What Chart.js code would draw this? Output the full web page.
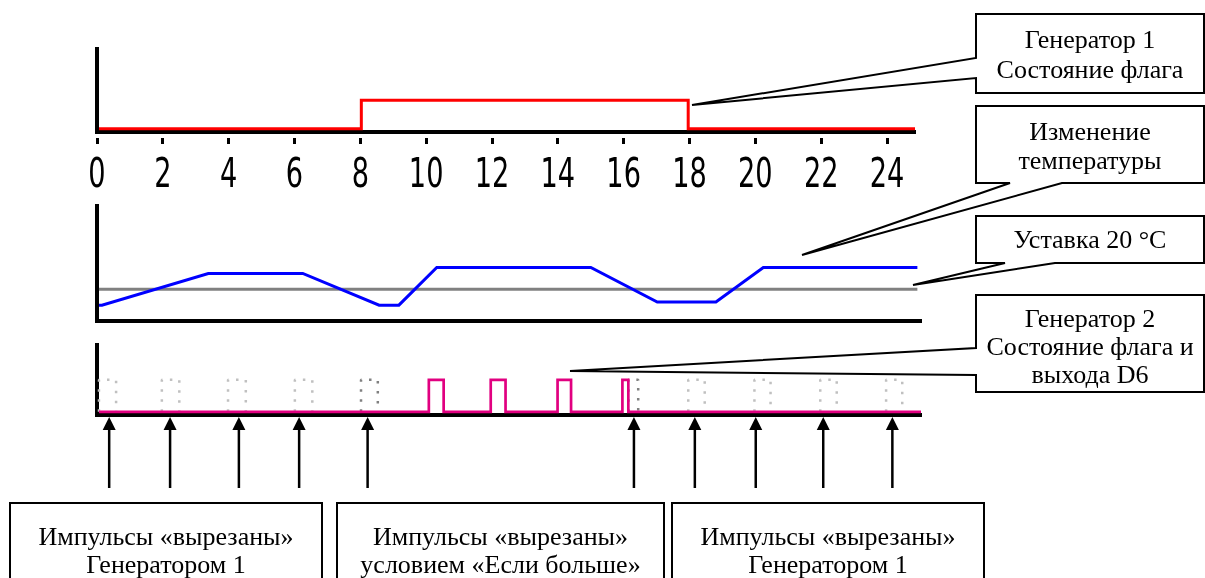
<!DOCTYPE html>
<html>
<head>
<meta charset="utf-8">
<script src="https://cdn.jsdelivr.net/npm/chart.js@4.4.1/dist/chart.umd.min.js"></script>
<style>
html, body { margin: 0; padding: 0; background: #fff; }
#wrap { position: relative; width: 1205px; height: 578px; overflow: hidden; }
canvas { position: absolute; left: 0; }
#c1 { top: 0; }
#c2 { top: 195px; }
#c3 { top: 335px; }
#notes { position: absolute; left: 0; top: 0; }
#notes text { font-family: "Liberation Serif", "Times New Roman", serif; font-size: 26px; fill: #000; }
</style>
</head>
<body>
<div id="wrap">
  <canvas id="c1" width="960" height="200"></canvas>
  <canvas id="c2" width="960" height="135"></canvas>
  <canvas id="c3" width="960" height="160"></canvas>
  <svg id="notes" width="1205" height="578"></svg>
</div>
<script>
// time axis (hours)
const tickHours = [0, 2, 4, 6, 8, 10, 12, 14, 16, 18, 20, 22, 24];

// Generator 1 flag
const flagHours = [0.06, 8.03, 17.96, 24.85];
const flagState = [0, 1, 0, 0];

// temperature and setpoint, °C
const tempHours = [0.06, 0.15, 3.38, 6.25, 8.57, 9.17, 10.32, 15.0, 17.02, 18.8, 20.24, 24.92];
const tempValues = [18.0, 18.0, 22.0, 22.0, 18.0, 18.0, 22.75, 22.75, 18.4, 18.4, 22.75, 22.75];
const setpointHours = [0.06, 24.92];
const setpointValues = [20, 20];

// Generator 2 flag / output D6
const pulseHours = [0.06, 10.08, 10.53, 11.96, 12.41, 13.99, 14.4, 15.96, 16.14, 25.03];
const pulseState = [0, 1, 0, 1, 0, 1, 0, 1, 0, 0];

// pulses that were cut out (dotted outlines)
const cutStart = [0.06, 1.97, 3.98, 6.01, 17.96, 19.97, 21.97, 23.97];
const cutEnd = [0.58, 2.5, 4.52, 6.54, 18.46, 20.46, 22.47, 24.46];
const cutDarkStart = [8.02, 16.14];
const cutDarkEnd = [8.53, 16.44];
const arrowHours = [0.37, 2.22, 4.31, 6.14, 8.22, 16.31, 18.16, 20.01, 22.06, 24.16];

function toPoints(xs, ys) {
    return xs.map((x, i) => ({ x: x, y: ys[i] }));
}

function outline(starts, ends) {
    const pts = [];
    starts.forEach((s, i) => {
        pts.push({ x: s, y: 0 }, { x: s, y: 1 }, { x: ends[i], y: 1 }, { x: ends[i], y: 0 }, { x: ends[i], y: null });
    });
    return pts;
}

function baseOptions(xMax, yMin, yMax, pad) {
    return {
        responsive: false,
        animation: false,
        devicePixelRatio: 1,
        events: [],
        layout: { padding: pad },
        plugins: { legend: { display: false }, tooltip: { enabled: false } },
        elements: {
            point: { radius: 0 },
            line: { tension: 0, borderCapStyle: 'butt', borderJoinStyle: 'miter' }
        },
        scales: {
            x: {
                type: 'linear', min: 0, max: xMax,
                grid: { display: false, drawTicks: false },
                ticks: { display: false },
                border: { display: true, color: '#000', width: 4 }
            },
            y: {
                type: 'linear', min: yMin, max: yMax,
                grid: { display: false, drawTicks: false },
                ticks: { display: false },
                border: { display: true, color: '#000', width: 4 }
            }
        }
    };
}

// tick labels drawn narrow, like the old bitmap font
const tickLabelPlugin = {
    id: 'tickLabels',
    afterDraw(chart) {
        const ctx = chart.ctx;
        const sx = chart.scales.x;
        const baseY = chart.chartArea.bottom + 55;
        ctx.save();
        ctx.fillStyle = '#000';
        ctx.font = '40px "DejaVu Sans"';
        ctx.textAlign = 'center';
        ctx.textBaseline = 'alphabetic';
        sx.ticks.forEach(t => {
            const px = sx.getPixelForValue(t.value);
            ctx.save();
            ctx.translate(px, baseY);
            ctx.scale(0.68, 1);
            ctx.fillText(String(t.value), 0, 0);
            ctx.restore();
        });
        ctx.restore();
    }
};

const arrowPlugin = {
    id: 'cutArrows',
    afterDraw(chart) {
        const ctx = chart.ctx;
        const sx = chart.scales.x;
        const tip = chart.chartArea.bottom + 2;
        ctx.save();
        ctx.fillStyle = '#000';
        ctx.strokeStyle = '#000';
        ctx.lineWidth = 2.5;
        arrowHours.forEach(h => {
            const px = sx.getPixelForValue(h);
            ctx.beginPath();
            ctx.moveTo(px, tip);
            ctx.lineTo(px - 6.5, tip + 13);
            ctx.lineTo(px + 6.5, tip + 13);
            ctx.closePath();
            ctx.fill();
            ctx.beginPath();
            ctx.moveTo(px, tip + 12);
            ctx.lineTo(px, tip + 71);
            ctx.stroke();
        });
        ctx.restore();
    }
};

// panel 1: flag of generator 1
const opt1 = baseOptions(24.85, -0.116, 2.806, { left: 97, right: 45, top: 49, bottom: 56 });
opt1.scales.x.grid = {
    display: true, drawOnChartArea: false, drawTicks: true,
    tickLength: 12, tickWidth: 3, tickColor: '#000', tickBorderDash: [0, 4, 7, 40]
};
opt1.scales.x.afterBuildTicks = s => { s.ticks = tickHours.map(v => ({ value: v })); };

new Chart(document.getElementById('c1'), {
    type: 'line',
    data: {
        datasets: [{
            data: toPoints(flagHours, flagState),
            borderColor: '#ff0000', borderWidth: 3, stepped: true, fill: false
        }]
    },
    options: opt1,
    plugins: [tickLabelPlugin]
});

// panel 2: temperature
new Chart(document.getElementById('c2'), {
    type: 'line',
    data: {
        datasets: [{
            data: toPoints(tempHours, tempValues),
            borderColor: '#0000ff', borderWidth: 3, fill: false
        }, {
            data: toPoints(setpointHours, setpointValues),
            borderColor: '#808080', borderWidth: 3, fill: false
        }]
    },
    options: baseOptions(25.03, 16, 30.51, { left: 97, right: 39, top: 11, bottom: 9 })
});

// panel 3: generator 2 output
new Chart(document.getElementById('c3'), {
    type: 'line',
    data: {
        datasets: [{
            data: toPoints(pulseHours, pulseState),
            borderColor: '#e10080', borderWidth: 2.7, stepped: true, fill: false
        }, {
            data: outline(cutDarkStart, cutDarkEnd),
            borderColor: '#808080', borderWidth: 2.5, borderDash: [2.5, 7.5], borderJoinStyle: 'bevel', fill: false, spanGaps: false
        }, {
            data: outline(cutStart, cutEnd),
            borderColor: '#c0c0c0', borderWidth: 2.5, borderDash: [2.5, 7.5], borderJoinStyle: 'bevel', fill: false, spanGaps: false
        }]
    },
    options: baseOptions(25.03, -0.1, 2.0875, { left: 97, right: 39, top: 10, bottom: 80 }),
    plugins: [arrowPlugin]
});

// callouts
const callouts = [
    { box: [976, 14, 228, 79], side: 'left', gap: [58, 78], tip: [692, 105], lines: ['Генератор 1', 'Состояние флага'], base: [48, 78] },
    { box: [976, 106, 228, 77], side: 'bottom', gap: [1010, 1062], tip: [802, 255], lines: ['Изменение', 'температуры'], base: [140, 169] },
    { box: [976, 216, 228, 47], side: 'bottom', gap: [1005, 1055], tip: [913, 285], lines: ['Уставка 20 °C'], base: [248] },
    { box: [976, 295, 228, 97], side: 'left', gap: [348, 375], tip: [570, 371], lines: ['Генератор 2', 'Состояние флага и', 'выхода D6'], base: [327, 355, 383] },
    { box: [10, 503, 312, 100], side: 'none', lines: ['Импульсы «вырезаны»', 'Генератором 1'], base: [545, 573] },
    { box: [337, 503, 327, 100], side: 'none', lines: ['Импульсы «вырезаны»', 'условием «Если больше»'], base: [545, 573] },
    { box: [672, 503, 312, 100], side: 'none', lines: ['Импульсы «вырезаны»', 'Генератором 1'], base: [545, 573] }
];

let svg = '';
callouts.forEach(c => {
    const [x, y, w, h] = c.box;
    let d;
    if (c.side === 'left') {
        d = `M${x},${y} H${x + w} V${y + h} H${x} V${c.gap[1]} L${c.tip[0]},${c.tip[1]} L${x},${c.gap[0]} Z`;
    } else if (c.side === 'bottom') {
        d = `M${x},${y} H${x + w} V${y + h} H${c.gap[1]} L${c.tip[0]},${c.tip[1]} L${c.gap[0]},${y + h} H${x} Z`;
    } else {
        d = `M${x},${y} H${x + w} V${y + h} H${x} Z`;
    }
    svg += `<path d="${d}" fill="#fff" stroke="#000" stroke-width="2" stroke-linejoin="miter"/>`;
    c.lines.forEach((t, i) => {
        svg += `<text x="${x + w / 2}" y="${c.base[i]}" text-anchor="middle">${t}</text>`;
    });
});
document.getElementById('notes').innerHTML = svg;
</script>
</body>
</html>
